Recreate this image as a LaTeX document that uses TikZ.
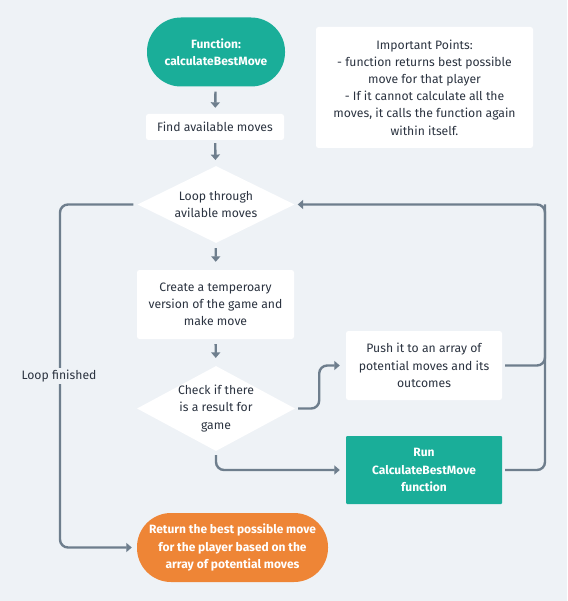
\documentclass[tikz,border=0pt]{standalone}
\usepackage{fontspec}
\setmainfont{Fira Sans}
\usetikzlibrary{arrows.meta,shapes.geometric}
\definecolor{bgc}{HTML}{EEF2F6}
\definecolor{tealc}{HTML}{1AAE99}
\definecolor{orangec}{HTML}{EE8536}
\definecolor{linec}{HTML}{6E7E8D}
\definecolor{txtc}{HTML}{2B3340}
\tikzset{
  txt/.style={font=\fontsize{12.2}{17.2}\selectfont, text=txtc, align=center},
  boxw/.style={txt, fill=white, rounded corners=2.5pt, inner sep=0pt},
  pill/.style={font=\bfseries\fontsize{12}{17.2}\selectfont, text=white, align=center, inner sep=0pt, rounded corners=34pt},
  dia/.style={diamond, fill=white, inner sep=0pt},
  arr/.style={draw=linec, line width=2.4pt, -{Triangle[length=5.5pt,width=9pt]}, rounded corners=8pt},
  ln/.style={draw=linec, line width=2.4pt, rounded corners=8pt},
}
\begin{document}
\begin{tikzpicture}[x=1pt,y=-1pt]
\fill[bgc] (0,0) rectangle (567,601);
\useasboundingbox (0,0) rectangle (567,601);

\node[pill, fill=tealc, minimum width=138pt, minimum height=69pt] (start) at (216,52) {Function:\\calculateBestMove};
\node[boxw, minimum width=138pt, minimum height=26pt] (find) at (215,127) {Find available moves};
\node[dia, minimum width=157pt, minimum height=77pt] (d1) at (216,204.5) {};
\node[txt] (d1t) at (d1) {Loop through\\avilable moves};
\node[boxw, minimum width=157pt, minimum height=69pt] (create) at (215.5,304.5) {Create a temperoary\\version of the game and\\make move};
\node[dia, minimum width=158pt, minimum height=85pt] (d2) at (216,408.5) {};
\node[txt] (d2t) at (d2) {Check if there\\is a result for\\game};
\node[boxw, minimum width=156pt, minimum height=69pt] (push) at (424,365.5) {Push it to an array of\\potential moves and its\\outcomes};
\node[pill, fill=tealc, rounded corners=1pt, minimum width=156pt, minimum height=68pt] (run) at (424,470) {Run\\CalculateBestMove\\function};
\node[pill, fill=orangec, minimum width=191pt, minimum height=69pt] (ret) at (232.5,547.5) {Return the best possible move\\for the player based on the\\array of potential moves};
\node[boxw, minimum width=217pt, minimum height=121pt] (note) at (424.5,87.5) {Important Points:\\- function returns best possible\\move for that player\\- If it cannot calculate all the\\moves, it calls the function again\\within itself.};

\coordinate (rc) at (545,204.5);
\coordinate (lc) at (60,204.5);

\draw[arr, shorten <=5pt, shorten >=6pt] (start) -- (find);
\draw[arr, shorten <=3pt, shorten >=6pt] (find) -- (d1);
\draw[arr, shorten <=5pt, shorten >=8pt] (d1) -- (create);
\draw[arr, shorten <=5pt, shorten >=8pt] (create) -- (d2);
\draw[arr, shorten <=3pt, shorten >=6pt] (d2.east) -- ++(24,0) |- (push.west);
\draw[arr, shorten <=4pt, shorten >=6pt] (d2.south) |- (run.west);
\draw[ln, shorten <=3pt] (push.east) -| (rc);
\draw[arr, shorten <=3pt, shorten >=3pt] (run.east) -| (rc) -- (d1.east);
\draw[arr, shorten <=4pt, shorten >=5pt] (d1.west) -- (lc) |- (ret.west);
\node[txt, fill=bgc, inner sep=2pt] (lf) at (59,376) {Loop finished};
\end{tikzpicture}
\end{document}
